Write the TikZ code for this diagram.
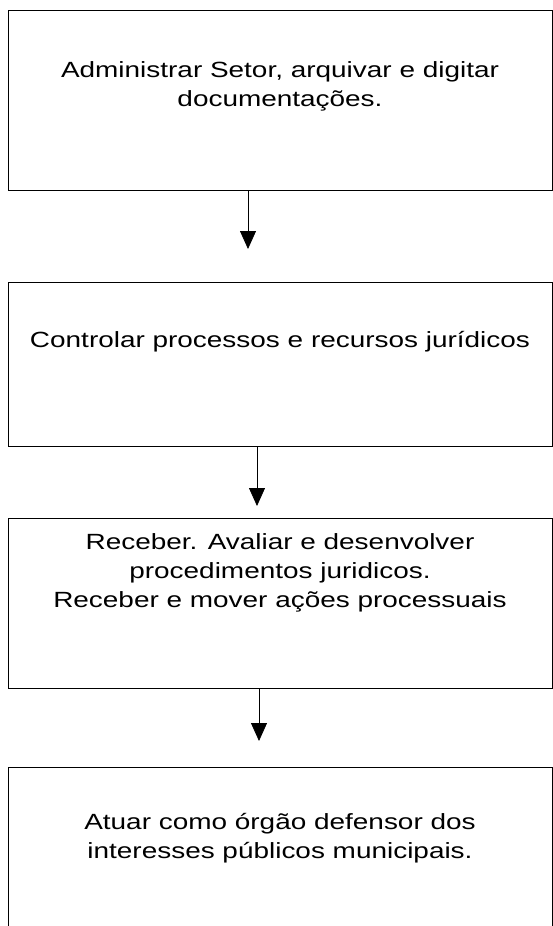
\documentclass[tikz,border=0pt]{standalone}
\usepackage{fontspec}
\setmainfont{Liberation Sans}[FakeStretch=1.27]
\usepackage{tikz}
\usetikzlibrary{arrows.meta}

\tikzset{
  stepbox/.style={draw, line width=0.9pt, minimum width=544pt, inner sep=0pt},
  steptext/.style={align=center, font=\fontsize{22}{29}\selectfont},
  flow/.style={line width=0.8pt, -{Triangle[width=16pt,length=18pt]}}
}

\begin{document}
\begin{tikzpicture}[x=1pt, y=-1pt]
\useasboundingbox (0,0) rectangle (553,926);
\node[stepbox, minimum height=180pt] (b1) at (280,100) {};
\node[stepbox, minimum height=164pt] (b2) at (280,364) {};
\node[stepbox, minimum height=170pt] (b3) at (280,603) {};
\node[stepbox, minimum height=180pt] (b4) at (280,857) {};
\node[steptext] (t1) at (280,86) {Administrar Setor, arquivar e digitar\\documentações.};
\node[steptext] (t2) at (280,342) {Controlar processos e recursos jurídicos};
\node[steptext] (t3) at (280,573) {Receber. Avaliar e desenvolver\\procedimentos juridicos.\\Receber e mover ações processuais};
\node[steptext] (t4) at (280,838) {Atuar como órgão defensor dos\\interesses públicos municipais.};
\coordinate (e1) at (248,249);
\coordinate (e2) at (257,506);
\coordinate (e3) at (259,741);
\draw[flow] (b1.south -| e1) -- (e1);
\draw[flow] (b2.south -| e2) -- (e2);
\draw[flow] (b3.south -| e3) -- (e3);
\end{tikzpicture}
\end{document}
